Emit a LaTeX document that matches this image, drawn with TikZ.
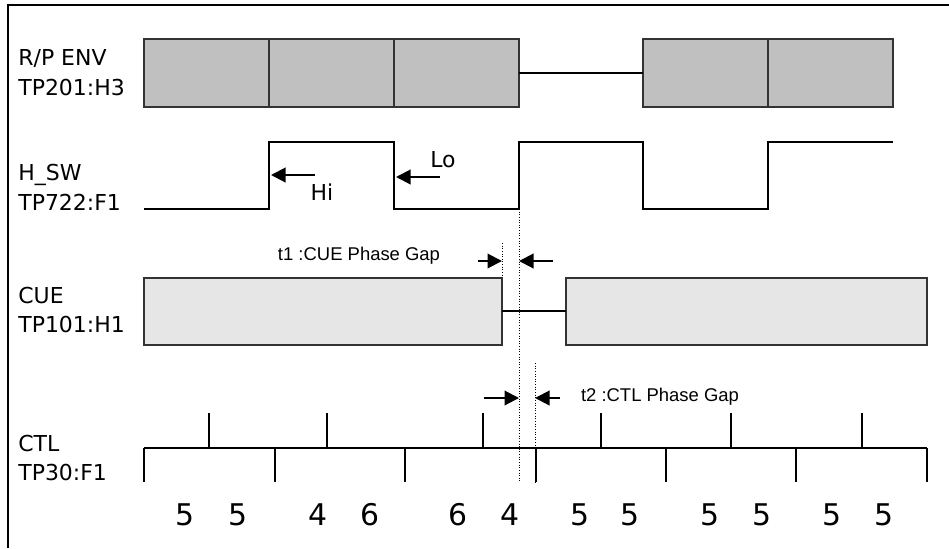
\documentclass[tikz,border=0pt]{standalone}
\usepackage{fontspec}
\setmainfont{DejaVu Sans}
\newfontfamily\gapfont{Liberation Sans}
\usetikzlibrary{arrows.meta,positioning}
\definecolor{envgrey}{RGB}{192,192,192}
\definecolor{cuegrey}{RGB}{230,230,230}

\begin{document}
\begin{tikzpicture}[x=0.02cm, y=-0.02cm,
    sigline/.style={line width=1.2pt, black},
    blockbox/.style={draw=black!80, line width=0.8pt},
    gapline/.style={densely dotted, line width=0.5pt},
    gaparr/.style={-{Triangle[length=2.9mm, width=2.9mm]}, line width=1.2pt},
    chlabel/.style={anchor=west, align=left, inner sep=0pt, font=\fontsize{12.5}{17}\selectfont},
    cnt/.style={font=\fontsize{17}{20}\selectfont, inner sep=0pt},
    gaptext/.style={font=\gapfont\fontsize{10.5}{12}\selectfont, inner sep=0pt}
]
    \useasboundingbox (0,0) rectangle (949,548);
    \draw[line width=0.7pt] (8,548) -- (8,5) -- (949,5);

    % channel names
    \node[chlabel] (env) at (18,73) {R/P ENV\\TP201:H3};
    \node[chlabel] (hsw) at (18,187) {H\_SW\\TP722:F1};
    \node[chlabel] (cue) at (18,310) {CUE\\TP101:H1};
    \node[chlabel] (ctl) at (18,458) {CTL\\TP30:F1};

    % R/P ENV
    \draw[blockbox, fill=envgrey] (144,39) rectangle (519,107);
    \draw[blockbox, fill=envgrey] (643,39) rectangle (893,107);
    \foreach \x in {269,394,768}
        \draw[blockbox] (\x,39) -- (\x,107);
    \draw[sigline] (519,73) -- (643,73);

    % H_SW
    \draw[sigline] (144,209) -- (269,209) -- (269,142) -- (394,142) -- (394,209)
        -- (519,209) -- (519,142) -- (643,142) -- (643,209) -- (768,209)
        -- (768,142) -- (893,142);
    \coordinate (hiedge) at (271,175);
    \coordinate (loedge) at (396,177);
    \node[font=\fontsize{12.5}{15}\selectfont, inner sep=0pt] (hi) at (322,192) {Hi};
    \node[font=\fontsize{12.5}{15}\selectfont, inner sep=0pt] (lo) at (443,160) {Lo};
    \draw[gaparr] (315,175) -- (hiedge);
    \draw[gaparr] (440,177) -- (loedge);

    % phase reference lines
    \draw[gapline] (519,209) -- (519,482);
    \draw[gapline] (502,243) -- (502,278);
    \draw[gapline] (535,363) -- (535,482);

    % CUE
    \draw[blockbox, fill=cuegrey] (144,278) rectangle (502,345);
    \draw[blockbox, fill=cuegrey] (566,278) rectangle (927,345);
    \draw[sigline] (502,311) -- (566,311);

    % t1
    \coordinate (cueend) at (502,261);
    \coordinate (swedge) at (519,261);
    \node[gaptext] (t1) at (359,256) {t1 :CUE Phase Gap};
    \draw[gaparr] (478,261) -- (cueend);
    \draw[gaparr] (553,261) -- (swedge);

    % t2
    \coordinate (swedge2) at (519,398);
    \coordinate (ctledge) at (535,398);
    \node[gaptext] (t2) at (660,397) {t2 :CTL Phase Gap};
    \draw[gaparr] (484,398) -- (swedge2);
    \draw[gaparr] (560,398) -- (ctledge);

    % CTL
    \draw[sigline] (144,448) -- (927,448);
    \foreach \x in {144,275,405,536,666,796,927}
        \draw[sigline] (\x,448) -- (\x,482);
    \foreach \x in {209,327,483,601,731,862}
        \draw[sigline] (\x,448) -- (\x,413);
    \foreach \x/\n [count=\i] in {185/5,238/5,318/4,370/6,458/6,510/4,580/5,630/5,710/5,762/5,832/5,884/5}
        \node[cnt] (num\i) at (\x,515) {\n};
\end{tikzpicture}
\end{document}
